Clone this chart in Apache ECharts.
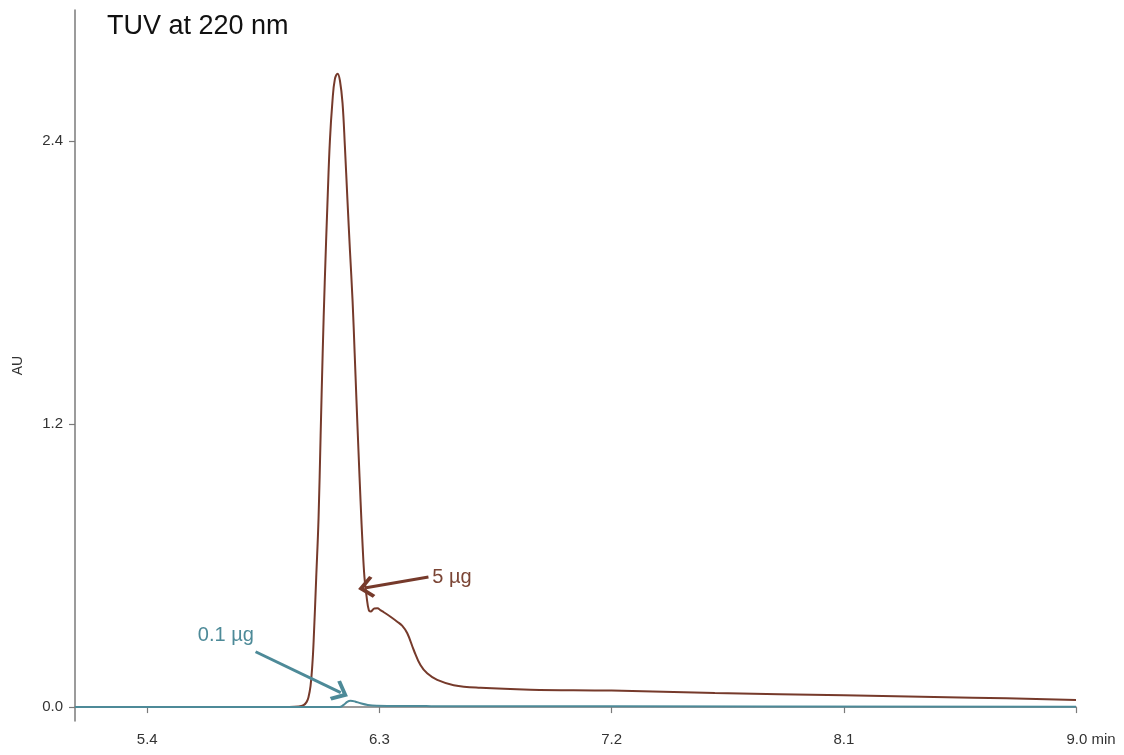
<!DOCTYPE html>
<html>
<head>
<meta charset="utf-8">
<script src="https://cdn.jsdelivr.net/npm/echarts@6/dist/echarts.min.js"></script>
<style>
html,body{margin:0;padding:0;background:#fff;}
#chart{width:1124px;height:755px;}
</style>
</head>
<body>
<div id="chart"></div>
<script>
// ---- data ----
const titleText = 'TUV at 220 nm';
const xTicks = [5.4, 6.3, 7.2, 8.1, 9.0];
const yTicks = [0.0, 1.2, 2.4];

const brownTimes = [5.12, 5.95, 5.987, 6.006, 6.018, 6.025, 6.033, 6.040, 6.045, 6.055, 6.064, 6.072, 6.080, 6.088, 6.099, 6.108, 6.118, 6.127, 6.138, 6.147, 6.157, 6.166, 6.176, 6.186, 6.196, 6.204, 6.211, 6.219, 6.227, 6.235, 6.242, 6.250, 6.259, 6.266, 6.280, 6.292, 6.305, 6.317, 6.343, 6.369, 6.388, 6.408, 6.433, 6.459, 6.485, 6.524, 6.588, 6.692, 6.885, 7.2, 7.6, 8.1, 8.6, 9.0];
const brownAU    = [0, 0, 0.002, 0.008, 0.022, 0.042, 0.09, 0.18, 0.28, 0.55, 0.80, 1.15, 1.50, 1.80, 2.15, 2.40, 2.57, 2.66, 2.685, 2.655, 2.56, 2.38, 2.15, 1.93, 1.72, 1.50, 1.30, 1.08, 0.87, 0.68, 0.55, 0.47, 0.41, 0.405, 0.418, 0.419, 0.41, 0.402, 0.383, 0.362, 0.345, 0.313, 0.242, 0.178, 0.143, 0.115, 0.093, 0.082, 0.074, 0.070, 0.060, 0.050, 0.040, 0.030];

const tealTimes = [5.12, 6.145, 6.160, 6.175, 6.188, 6.205, 6.227, 6.255, 6.29, 6.5, 7.2, 9.0];
const tealAU    = [0, 0, 0.008, 0.022, 0.027, 0.024, 0.016, 0.009, 0.006, 0.004, 0.003, 0.001];

// annotations
const ann5Label = '5 µg';
const ann5Text = [6.505, 0.551];
const ann5Arrow = [[6.490, 0.551], [6.248, 0.506]];
const ann01Label = '0.1 µg';
const ann01Text = [5.596, 0.305];
const ann01Arrow = [[5.820, 0.2345], [6.150, 0.061]];

// ---- chart ----
const BROWN = '#763a2b';
const TEAL = '#4d8a98';
const chevron = 'path://M0,0 L14,13 L11,16 L0,6 L-11,16 L-14,13 Z';

const zip = (a, b) => a.map((v, i) => [v, b[i]]);

const chart = echarts.init(document.getElementById('chart'), null, {renderer: 'canvas'});
chart.setOption({
  animation: false,
  backgroundColor: '#fff',
  title: {
    text: titleText, left: 102, top: 8,
    textStyle: {fontFamily: 'Liberation Sans', fontSize: 27, fontWeight: 'normal', color: '#111'}
  },
  grid: {left: 75, right: 48, top: 10, bottom: 34, containLabel: false},
  xAxis: {
    type: 'value', min: 5.12, max: 9.0,
    axisLine: {show: true, lineStyle: {color: '#7a7a7a', width: 1.5}},
    axisTick: {show: true, customValues: xTicks, length: 6, lineStyle: {color: '#7a7a7a', width: 1.2}},
    axisLabel: {
      customValues: xTicks, margin: 11,
      fontFamily: 'Liberation Sans', fontSize: 15, color: '#333',
      formatter: v => Math.abs(v - 9.0) < 1e-9 ? '{pad|}9.0 min' : v.toFixed(1),
      rich: {pad: {width: 30}}
    },
    splitLine: {show: false}
  },
  yAxis: {
    type: 'value', min: -0.059, max: 2.955,
    name: 'AU', nameLocation: 'middle', nameGap: 50, nameRotate: 90,
    nameTextStyle: {fontFamily: 'Liberation Sans', fontSize: 14, color: '#333'},
    axisLine: {show: true, lineStyle: {color: '#7a7a7a', width: 1.5}},
    axisTick: {show: true, customValues: yTicks, length: 6, lineStyle: {color: '#7a7a7a', width: 1.2}},
    axisLabel: {
      customValues: yTicks, margin: 12,
      fontFamily: 'Liberation Sans', fontSize: 15, color: '#333',
      formatter: v => v.toFixed(1)
    },
    splitLine: {show: false}
  },
  series: [
    {
      name: '5 µg', type: 'line', data: zip(brownTimes, brownAU),
      showSymbol: false, smooth: 0.4,
      lineStyle: {color: BROWN, width: 2}, z: 2,
      markLine: {
        silent: true, symbol: ['none', chevron], symbolSize: [22, 16],
        lineStyle: {color: BROWN, width: 3, type: 'solid'},
        label: {show: false},
        data: [[{coord: ann5Arrow[0]}, {coord: ann5Arrow[1]}]]
      },
      markPoint: {
        silent: true, symbol: 'circle', symbolSize: 0,
        label: {show: true, position: 'right', distance: 0, formatter: ann5Label,
          fontFamily: 'Liberation Sans', fontSize: 20, color: '#7b4535'},
        data: [{coord: ann5Text}]
      }
    },
    {
      name: '0.1 µg', type: 'line', data: zip(tealTimes, tealAU),
      showSymbol: false, smooth: 0.4,
      lineStyle: {color: TEAL, width: 2}, z: 3,
      markLine: {
        silent: true, symbol: ['none', chevron], symbolSize: [22, 16],
        lineStyle: {color: TEAL, width: 3, type: 'solid'},
        label: {show: false},
        data: [[{coord: ann01Arrow[0]}, {coord: ann01Arrow[1]}]]
      },
      markPoint: {
        silent: true, symbol: 'circle', symbolSize: 0,
        label: {show: true, position: 'right', distance: 0, formatter: ann01Label,
          fontFamily: 'Liberation Sans', fontSize: 20, color: '#4d8a98'},
        data: [{coord: ann01Text}]
      }
    }
  ]
});
</script>
</body>
</html>
